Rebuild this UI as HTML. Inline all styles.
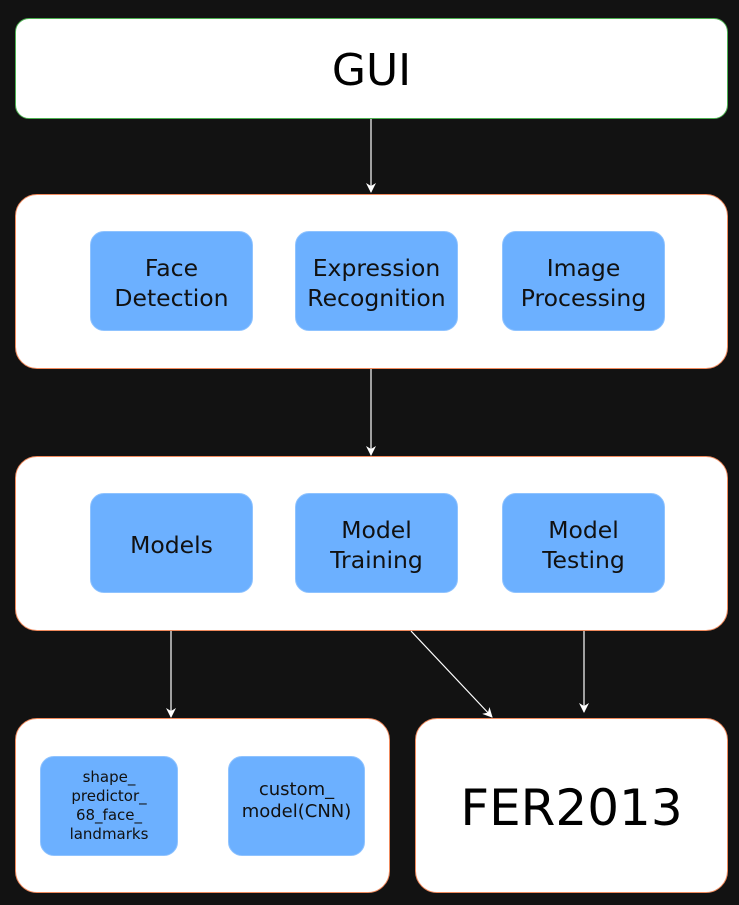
<!DOCTYPE html>
<html><head><style>
body{margin:0;background:#121212;width:739px;height:905px;position:relative;overflow:hidden;font-family:"DejaVu Sans","Liberation Sans",sans-serif}
.b{position:absolute;background:#fff;border:1px solid #f08a5d;border-radius:22px;box-sizing:border-box}
.i{position:absolute;background:#6cb0ff;border:1px solid #8fc3ff;border-radius:14px;box-sizing:border-box;display:flex;align-items:center;justify-content:center;text-align:center;color:#111;font-size:23.5px;line-height:30px;padding-top:4px}
.t{position:absolute;display:flex;align-items:center;justify-content:center;color:#000}
</style></head><body>
<div class="b" style="left:15px;top:18px;width:713px;height:101px;border-color:#4caf50;border-radius:14px"></div>
<div class="t" style="left:15px;top:20px;width:713px;height:101px;font-size:44px">GUI</div>
<div class="b" style="left:15px;top:194px;width:713px;height:175px"></div>
<div class="i" style="left:90px;top:231px;width:163px;height:100px">Face<br>Detection</div>
<div class="i" style="left:295px;top:231px;width:163px;height:100px">Expression<br>Recognition</div>
<div class="i" style="left:502px;top:231px;width:163px;height:100px">Image<br>Processing</div>
<div class="b" style="left:15px;top:456px;width:713px;height:175px"></div>
<div class="i" style="left:90px;top:493px;width:163px;height:100px">Models</div>
<div class="i" style="left:295px;top:493px;width:163px;height:100px">Model<br>Training</div>
<div class="i" style="left:502px;top:493px;width:163px;height:100px">Model<br>Testing</div>
<div class="b" style="left:15px;top:718px;width:375px;height:175px"></div>
<div class="i" style="left:40px;top:756px;width:138px;height:100px;font-size:15px;line-height:19px;padding-top:0">shape_<br>predictor_<br>68_face_<br>landmarks</div>
<div class="i" style="left:228px;top:756px;width:137px;height:100px;font-size:18px;line-height:22px;padding-top:0;padding-bottom:10px">custom_<br>model(CNN)</div>
<div class="b" style="left:415px;top:718px;width:313px;height:175px"></div>
<div class="t" style="left:415px;top:720px;width:313px;height:175px;font-size:50px">FER2013</div>
<svg style="position:absolute;left:0;top:0" width="739" height="905">
<defs><marker id="a" markerWidth="10" markerHeight="10" refX="9" refY="5" orient="auto" markerUnits="userSpaceOnUse"><path d="M0,0 L10,5 L0,10 L3,5z" fill="#fff"/></marker></defs>
<g stroke="#fff" stroke-width="1.2" marker-end="url(#a)">
<line x1="371" y1="119" x2="371" y2="192"/>
<line x1="371" y1="369" x2="371" y2="455"/>
<line x1="171" y1="631" x2="171" y2="717"/>
<line x1="411" y1="631" x2="492" y2="717"/>
<line x1="584" y1="631" x2="584" y2="712"/>
</g></svg>
</body></html>
